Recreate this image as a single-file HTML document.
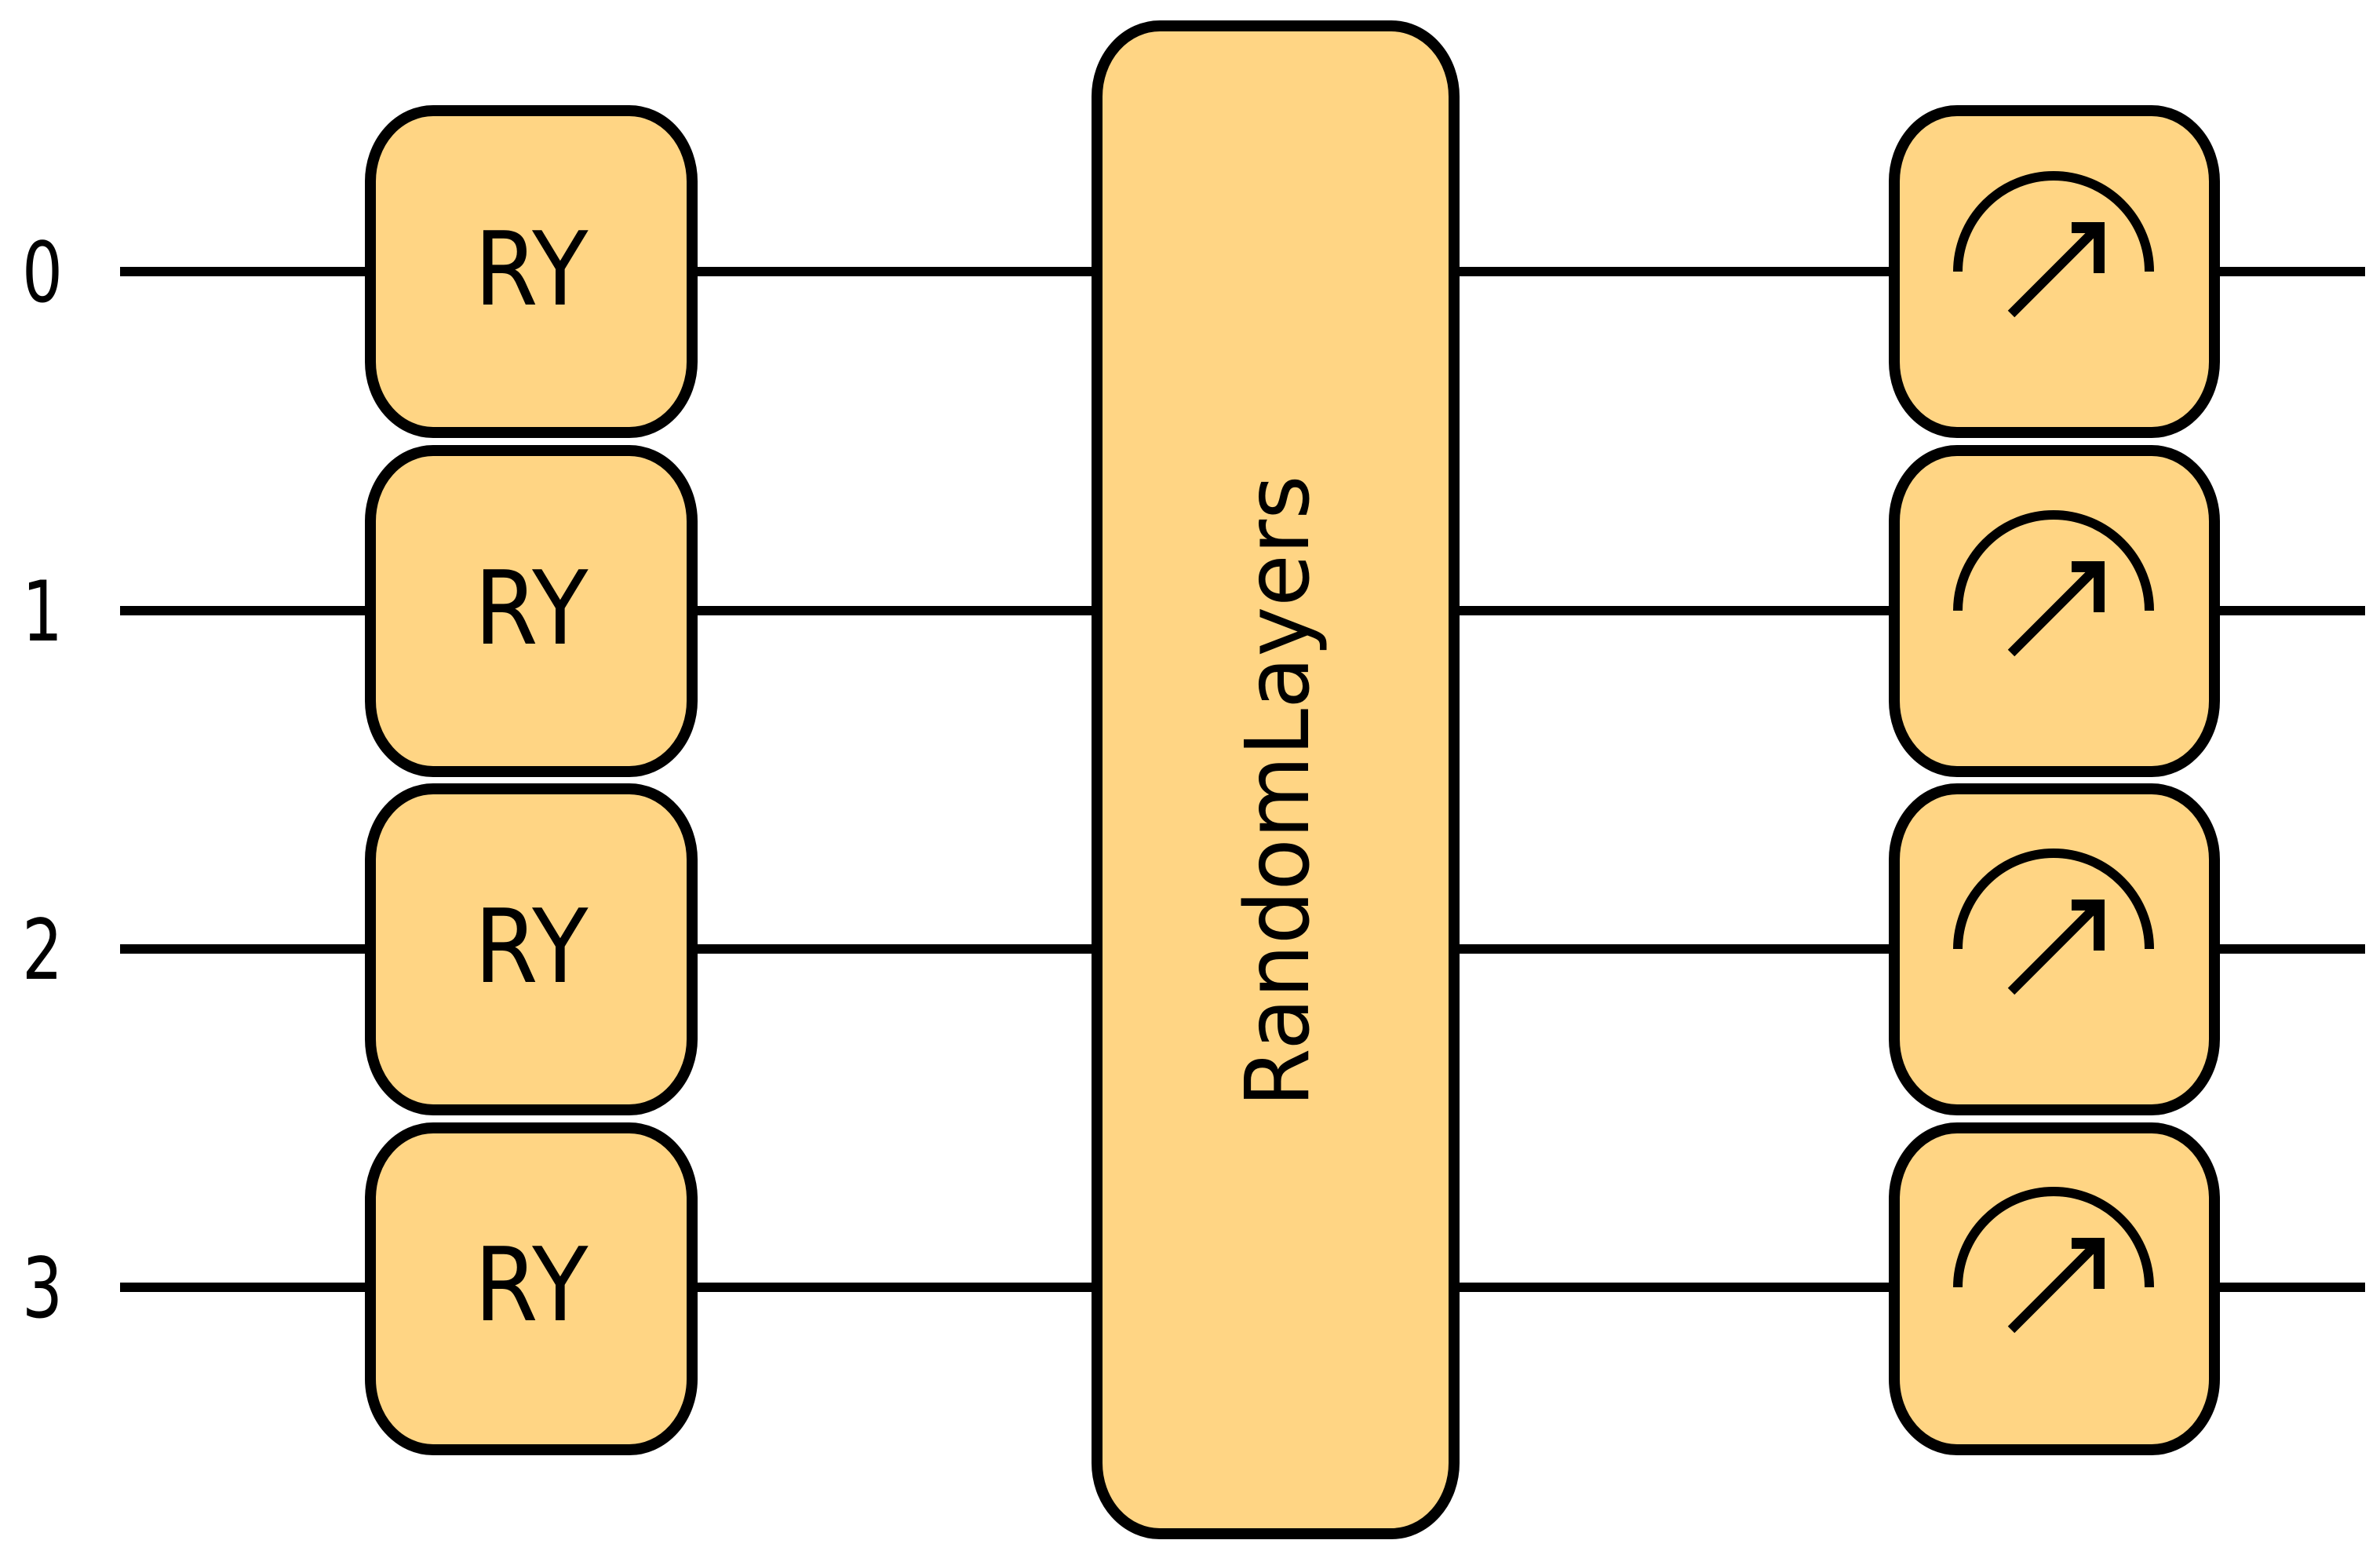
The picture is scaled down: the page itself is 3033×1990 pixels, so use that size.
<!DOCTYPE html>
<html><head><meta charset="utf-8"><style>html,body{margin:0;padding:0;background:#fff}svg{display:block}</style></head>
<body>
<svg width="3033" height="1990" viewBox="0 0 3033 1990" xmlns="http://www.w3.org/2000/svg">
<g stroke="#000" stroke-width="12">
<line x1="153" y1="346" x2="3014" y2="346"/>
<line x1="153" y1="778" x2="3014" y2="778"/>
<line x1="153" y1="1209" x2="3014" y2="1209"/>
<line x1="153" y1="1640" x2="3014" y2="1640"/>
</g>
<g font-family="'DejaVu Sans','Liberation Sans',sans-serif" font-size="106" fill="#000" text-anchor="middle">
<text x="54" y="384" textLength="52" lengthAdjust="spacingAndGlyphs">0</text>
<text x="54" y="816" textLength="52" lengthAdjust="spacingAndGlyphs">1</text>
<text x="54" y="1247" textLength="52" lengthAdjust="spacingAndGlyphs">2</text>
<text x="54" y="1678" textLength="52" lengthAdjust="spacingAndGlyphs">3</text>
</g>
<g fill="#FFD584" stroke="#000" stroke-width="14">
<rect x="472" y="141" width="410" height="410" rx="80" ry="90"/>
<rect x="472" y="574" width="410" height="409" rx="80" ry="90"/>
<rect x="472" y="1005" width="410" height="409" rx="80" ry="90"/>
<rect x="472" y="1437" width="410" height="410" rx="80" ry="90"/>
<rect x="1398" y="33" width="455" height="1921" rx="80" ry="90"/>
<rect x="2414" y="141" width="408" height="410" rx="80" ry="90"/>
<rect x="2414" y="574" width="408" height="409" rx="80" ry="90"/>
<rect x="2414" y="1005" width="408" height="409" rx="80" ry="90"/>
<rect x="2414" y="1437" width="408" height="410" rx="80" ry="90"/>
</g>
<g font-family="'DejaVu Sans','Liberation Sans',sans-serif" font-size="130" fill="#000" text-anchor="middle">
<text x="677" y="388" textLength="145" lengthAdjust="spacingAndGlyphs">RY</text>
<text x="677" y="820" textLength="145" lengthAdjust="spacingAndGlyphs">RY</text>
<text x="677" y="1251" textLength="145" lengthAdjust="spacingAndGlyphs">RY</text>
<text x="677" y="1682" textLength="145" lengthAdjust="spacingAndGlyphs">RY</text>
<text transform="translate(1667,1008) rotate(-90)" x="0" y="0" font-size="112" textLength="805" lengthAdjust="spacingAndGlyphs">RandomLayers</text>
</g>
<g fill="none" stroke="#000" stroke-width="12">
<g id="m">
<path d="M2495 346 A122 122 0 0 1 2739 346"/>
<line x1="2563" y1="400" x2="2672" y2="291"/>
<path d="M2640 290 H2675 V348" stroke-linejoin="miter" stroke-width="14"/>
</g>
<use href="#m" transform="translate(0,432)"/>
<use href="#m" transform="translate(0,863)"/>
<use href="#m" transform="translate(0,1294)"/>
</g>
</svg>
</body></html>
